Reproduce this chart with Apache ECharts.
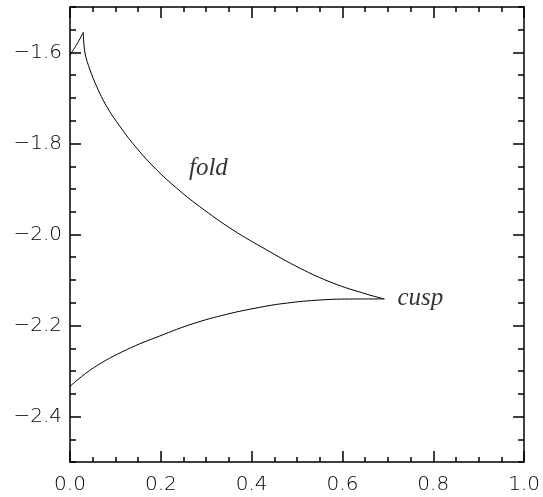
<!DOCTYPE html>
<html>
<head>
<meta charset="utf-8">
<script src="https://cdn.jsdelivr.net/npm/echarts@6/dist/echarts.min.js"></script>
<style>
  html, body { margin: 0; padding: 0; background: #fff; }
  #chart { width: 543px; height: 497px; }
</style>
</head>
<body>
<div id="chart"></div>
<script>
// Short arc running from the left edge up into the upper cusp
const leftArcX = [0, 0.015, 0.0292];
const leftArcY = [-1.605, -1.582, -1.5558];

// Fold line: upper cusp down to the cusp point
const foldX = [0.0292, 0.033, 0.044, 0.0587, 0.0807, 0.1099, 0.1466, 0.1905, 0.2345, 0.2857, 0.3589, 0.4323, 0.5055, 0.5787, 0.6521, 0.6923];
const foldY = [-1.5558, -1.6011, -1.6378, -1.6745, -1.7185, -1.7624, -1.8099, -1.8576, -1.8978, -1.9388, -1.9900, -2.0334, -2.0736, -2.1066, -2.1308, -2.1416];

// Lower branch: left edge to the cusp point
const lowerX = [0, 0.0512, 0.1246, 0.1978, 0.2710, 0.3444, 0.4176, 0.4688, 0.5422, 0.6154, 0.6923];
const lowerY = [-2.3338, -2.2934, -2.2532, -2.2230, -2.1960, -2.1755, -2.1601, -2.1518, -2.1445, -2.1418, -2.1416];

// Annotation anchors (data coordinates) and their texts
const noteNames = ['fold', 'cusp'];
const noteX = [0.262, 0.721];
const noteY = [-1.855, -2.141];

// Tick values
const yMajorTicks = [-2.4, -2.2, -2.0, -1.8, -1.6];

const zip = (xs, ys) => xs.map((x, i) => [x, ys[i]]);
const fmt = v => (v < 0 ? '\u2212' : '') + Math.abs(v).toFixed(1);

const labelFont = {
  fontFamily: 'DejaVu Sans',
  fontWeight: 200,
  fontSize: 20,
  color: '#000'
};
const lineStyle = { color: '#000', width: 1.5 };

function xAxisDef(pos, showLabel) {
  return {
    type: 'value', position: pos, min: 0, max: 1, interval: 0.2,
    axisLine: { show: true, onZero: false, lineStyle },
    axisTick: { show: true, inside: true, length: 11, lineStyle },
    minorTick: { show: true, splitNumber: 4, length: 5, lineStyle },
    splitLine: { show: false }, minorSplitLine: { show: false },
    axisLabel: Object.assign({ show: showLabel, margin: 13, formatter: fmt }, labelFont)
  };
}

function yMinorAxis(pos, showLabel) {
  return {
    type: 'value', position: pos, min: -2.5, max: -1.5, interval: 0.05,
    axisLine: { show: true, onZero: false, lineStyle },
    axisTick: { show: true, inside: true, length: 6, lineStyle },
    splitLine: { show: false },
    axisLabel: Object.assign({
      show: showLabel, margin: 8, customValues: yMajorTicks, formatter: fmt
    }, labelFont)
  };
}

function yMajorAxis(pos) {
  return {
    type: 'value', position: pos, min: -2.5, max: -1.5, interval: 0.05,
    axisLine: { show: false, onZero: false },
    axisTick: { show: true, inside: true, length: 11, customValues: yMajorTicks, lineStyle },
    splitLine: { show: false },
    axisLabel: { show: false }
  };
}

const curve = (xs, ys) => ({
  type: 'line', xAxisIndex: 0, yAxisIndex: 0,
  data: zip(xs, ys), smooth: 0.4, symbol: 'none',
  lineStyle: { color: '#000', width: 1 }, silent: true
});

const chart = echarts.init(document.getElementById('chart'), null, { renderer: 'canvas' });
chart.setOption({
  animation: false,
  backgroundColor: '#fff',
  grid: { left: 70, top: 7, right: 18, bottom: 35, containLabel: false },
  xAxis: [xAxisDef('bottom', true), xAxisDef('top', false)],
  yAxis: [yMinorAxis('left', true), yMajorAxis('left'), yMinorAxis('right', false), yMajorAxis('right')],
  series: [
    curve(leftArcX, leftArcY),
    curve(foldX, foldY),
    curve(lowerX, lowerY),
    {
      type: 'scatter', xAxisIndex: 0, yAxisIndex: 0, symbolSize: 0, silent: true,
      data: noteNames.map((n, i) => ({ name: n, value: [noteX[i], noteY[i]] })),
      label: {
        show: true, position: 'inside', formatter: '{b}',
        align: 'left', verticalAlign: 'middle',
        fontFamily: 'Liberation Serif', fontStyle: 'italic', fontSize: 25, color: '#000'
      }
    }
  ]
});
</script>
</body>
</html>
